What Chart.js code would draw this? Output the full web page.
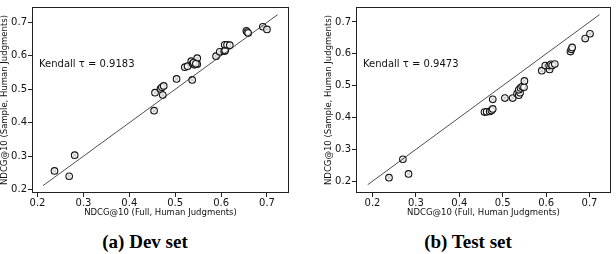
<!DOCTYPE html>
<html>
<head>
<meta charset="utf-8">
<script src="https://cdn.jsdelivr.net/npm/chart.js@4"></script>
<style>
  body { margin: 0; background: #fff; }
  #wrap { position: relative; width: 616px; height: 254px; overflow: hidden; background: #fff; }
  canvas { position: absolute; top: 0; }
  .cap { position: absolute; width: 200px; text-align: center; font-family: "Liberation Serif", serif;
         font-weight: bold; font-size: 19px; line-height: 22px; color: #000; }
</style>
</head>
<body>
<div id="wrap">
  <canvas id="dev_chart" width="300" height="218" style="left:0px"></canvas>
  <canvas id="test_chart" width="292" height="218" style="left:324px"></canvas>
  <div class="cap" style="left:45px; top:231px">(a) Dev set</div>
  <div class="cap" style="left:368px; top:231px">(b) Test set</div>
</div>
<script>
// dev set: NDCG@10 full vs sample
var devFull   = [0.237, 0.269, 0.281, 0.454, 0.456, 0.468, 0.471, 0.475, 0.473, 0.503,
                 0.521, 0.527, 0.535, 0.538, 0.542, 0.548, 0.548, 0.540, 0.545, 0.537,
                 0.589, 0.597, 0.607, 0.609, 0.608, 0.613, 0.619, 0.655, 0.657, 0.659,
                 0.691, 0.700];
var devSample = [0.256, 0.240, 0.303, 0.436, 0.490, 0.501, 0.506, 0.510, 0.483, 0.531,
                 0.566, 0.569, 0.584, 0.577, 0.573, 0.593, 0.575, 0.580, 0.576, 0.528,
                 0.599, 0.612, 0.614, 0.616, 0.633, 0.633, 0.632, 0.675, 0.671, 0.668,
                 0.687, 0.679];
// test set
var testFull   = [0.238, 0.270, 0.283, 0.458, 0.463, 0.470, 0.474, 0.477, 0.477, 0.505,
                  0.523, 0.533, 0.537, 0.540, 0.537, 0.541, 0.545, 0.549, 0.550, 0.590,
                  0.598, 0.608, 0.607, 0.611, 0.614, 0.620, 0.656, 0.658, 0.660, 0.690,
                  0.701];
var testSample = [0.211, 0.269, 0.223, 0.417, 0.418, 0.419, 0.422, 0.427, 0.457, 0.461,
                  0.461, 0.475, 0.470, 0.478, 0.487, 0.493, 0.497, 0.495, 0.515, 0.547,
                  0.563, 0.551, 0.563, 0.567, 0.563, 0.568, 0.607, 0.614, 0.620, 0.648,
                  0.663];
var tickVals = [0.2, 0.3, 0.4, 0.5, 0.6, 0.7];
var diagDev  = [0.212, 0.723];
var diagTest = [0.189, 0.723];
var tauDev = "0.9183";
var tauTest = "0.9473";

var FONT = "'DejaVu Sans', sans-serif";

var framePlugin = {
    id: 'frame',
    afterDraw: function(chart, args, opts) {
        var a = chart.chartArea, ctx = chart.ctx;
        ctx.save();
        ctx.strokeStyle = '#222';
        ctx.lineWidth = 1;
        ctx.strokeRect(Math.round(a.left) + 0.5, Math.round(a.top) + 0.5,
                       Math.round(a.right - a.left) - 1, Math.round(a.bottom - a.top) - 1);
        ctx.fillStyle = '#111';
        ctx.font = "10px " + FONT;
        ctx.textBaseline = 'middle';
        ctx.fillText("Kendall \u03c4 = " + opts.tau, a.left + 7, 64);
        ctx.restore();
    }
};

function makeAxis(title, min, max, isX) {
    return {
        type: 'linear',
        min: min,
        max: max,
        afterBuildTicks: function(s) { s.ticks = tickVals.map(function(v) { return { value: v }; }); },
        afterFit: function(s) { if (isX) s.height = 25; else s.width = 32; },
        grid: { drawOnChartArea: false, drawTicks: true, tickLength: 4, color: '#222' },
        border: { display: false },
        ticks: {
            padding: isX ? 0 : 1,
            color: '#111',
            font: { family: FONT, size: 10 },
            callback: function(v) { return Number(v).toFixed(1); }
        },
        title: {
            display: true,
            text: title,
            color: '#111',
            padding: 0,
            font: { family: FONT, size: 8.5 }
        }
    };
}

function loadScatter(id, full, sample, diag, tau, xr, yr, padRight) {
    var pts = full.map(function(x, i) { return { x: x, y: sample[i] }; });
    var ctx = document.getElementById(id);
    return new Chart(ctx, {
        type: 'scatter',
        data: {
            datasets: [
                { type: 'line', data: [{ x: diag[0], y: diag[0] }, { x: diag[1], y: diag[1] }],
                  borderColor: '#222', borderWidth: 0.8, pointRadius: 0, fill: false },
                { data: pts, pointStyle: 'circle', pointRadius: 3.3, borderWidth: 1.1,
                  borderColor: '#111', backgroundColor: 'rgba(255,255,255,0.8)' },
                { data: pts, pointStyle: 'crossRot', pointRadius: 2.2, borderWidth: 1.2,
                  borderColor: '#000' }
            ]
        },
        options: {
            responsive: false,
            animation: false,
            devicePixelRatio: 1,
            layout: { padding: { top: 2, right: padRight, left: 0, bottom: 0 } },
            plugins: { legend: { display: false }, tooltip: { enabled: false }, frame: { tau: tau } },
            scales: {
                x: makeAxis("NDCG@10 (Full, Human Judgments)", xr[0], xr[1], true),
                y: makeAxis("NDCG@10 (Sample, Human Judgments)", yr[0], yr[1], false)
            }
        },
        plugins: [framePlugin]
    });
}

loadScatter('dev_chart', devFull, devSample, diagDev, tauDev, [0.188, 0.748], [0.190, 0.746], 11);
loadScatter('test_chart', testFull, testSample, diagTest, tauTest, [0.162, 0.749], [0.163, 0.747], 3);
</script>
</body>
</html>
